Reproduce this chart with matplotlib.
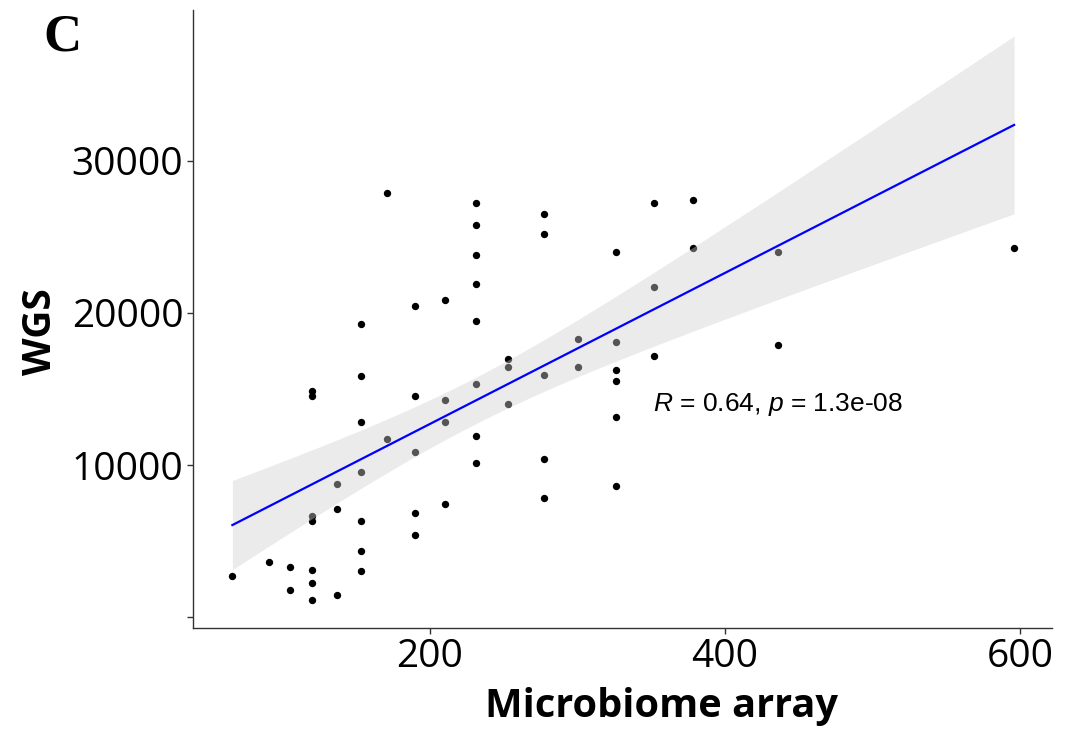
import numpy as np
import matplotlib
matplotlib.use('Agg')
import matplotlib.pyplot as plt

plt.rcParams['mathtext.fontset'] = 'custom'
plt.rcParams['mathtext.rm'] = 'Liberation Sans'
plt.rcParams['mathtext.it'] = 'Liberation Sans:italic'

# Microbiome array (x) vs WGS (y), one entry per sample
microbiome = [66, 91, 105, 105,
              120, 120, 120, 120, 120, 120, 120,
              137, 137, 137,
              153, 153, 153, 153, 153, 153, 153,
              171, 171,
              190, 190, 190, 190, 190,
              210, 210, 210, 210,
              231, 231, 231, 231, 231, 231, 231, 231,
              253, 253, 253,
              277, 277, 277, 277, 277,
              300, 300,
              326, 326, 326, 326, 326, 326,
              352, 352, 352,
              378, 378,
              436, 436,
              596]
wgs = [2740, 3610, 3280, 1800,
       3130, 2260, 1160, 6300, 6660, 14840, 14510,
       1450, 7090, 8730,
       3070, 4330, 6300, 9550, 12830, 15870, 19260,
       27900, 11730,
       5410, 6880, 10830, 14510, 20450,
       20860, 14310, 12830, 7470,
       27210, 25800, 23820, 21890, 19440, 15350, 11890, 10110,
       16990, 16420, 13990,
       26510, 25150, 15890, 10420, 7840,
       18300, 16420,
       24030, 18100, 16240, 15540, 13180, 8600,
       27210, 21690, 17160,
       27430, 24250,
       24030, 17900,
       24250]
stat_label = r'$R$ = 0.64, $p$ = 1.3e-08'

x = np.array(microbiome, dtype=float)
y = np.array(wgs, dtype=float)

# linear fit with 95% confidence band (like geom_smooth(method='lm'))
n = len(x)
slope, intercept = np.polyfit(x, y, 1)
resid = y - (slope * x + intercept)
s = np.sqrt(np.sum(resid ** 2) / (n - 2))
sxx = np.sum((x - x.mean()) ** 2)
xfit = np.linspace(x.min(), x.max(), 200)
yfit = slope * xfit + intercept
se = s * np.sqrt(1 / n + (xfit - x.mean()) ** 2 / sxx)
tval = 2.0

fig = plt.figure(figsize=(10.65, 7.42), dpi=100)
ax = fig.add_axes([0.1812, 0.1536, 0.8066, 0.833])

ax.scatter(x, y, s=28, color='black', linewidths=0, zorder=2)
ax.fill_between(xfit, yfit - tval * se, yfit + tval * se, color='#CFCFCF', alpha=0.41,
                linewidth=0, zorder=3)
ax.plot(xfit, yfit, color='#0000FF', linewidth=1.6, zorder=4)

ax.text(351, 13970, stat_label, fontsize=19, family='Liberation Sans', ha='left', va='center')

ax.set_xlim(39.3, 621.7)
ax.set_ylim(-700, 39900)
ax.set_xticks([200, 400, 600])
ax.set_yticks([0, 10000, 20000, 30000])
ax.set_yticklabels(['', '10000', '20000', '30000'])

for side in ['top', 'right']:
    ax.spines[side].set_visible(False)
for side in ['left', 'bottom']:
    ax.spines[side].set_color('#333333')
    ax.spines[side].set_linewidth(1.0)
ax.tick_params(axis='both', length=4, width=1.0, color='#333333', labelsize=28, pad=3)
for lab in ax.get_xticklabels() + ax.get_yticklabels():
    lab.set_family('Open Sans')

ax.set_xlabel('Microbiome array', fontsize=28.6, fontweight='bold', family='Open Sans', labelpad=10)
ax.xaxis.set_label_coords(0.545, -0.095)
ax.set_ylabel('WGS', fontsize=28, fontweight='bold', family='Open Sans', labelpad=8)
ax.yaxis.get_label().set_y(0.48)

fig.text(0.059, 0.949, 'C', fontsize=38, fontweight='bold', family='Liberation Serif',
         ha='center', va='center')

fig.savefig('out.png', dpi=100)
